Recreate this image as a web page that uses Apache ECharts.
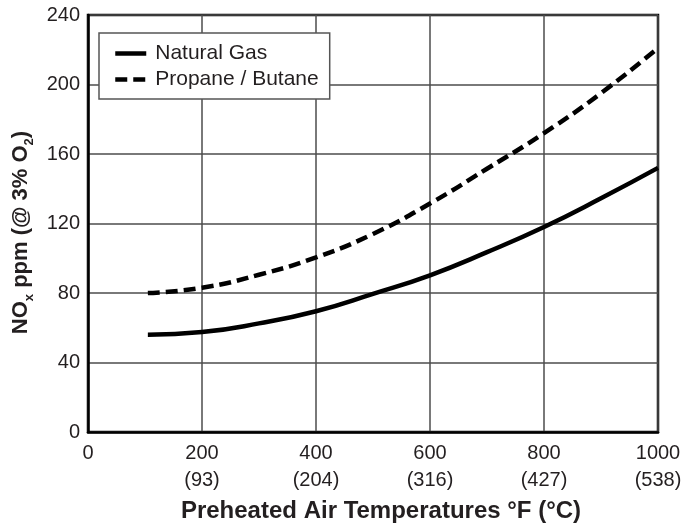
<!DOCTYPE html>
<html>
<head>
<meta charset="utf-8">
<script src="https://cdn.jsdelivr.net/npm/echarts@6/dist/echarts.min.js"></script>
<style>
html,body{margin:0;padding:0;background:#fff;}
#chart{width:681px;height:523px;}
</style>
</head>
<body>
<div id="chart"></div>
<script>
// Data
var xTickValues = [0, 200, 400, 600, 800, 1000];
var xTickCelsius = ['', '93', '204', '316', '427', '538'];
var yTickValues = [0, 40, 80, 120, 160, 200, 240];

var seriesNames = ['Natural Gas', 'Propane / Butane'];
var temperaturesF = [105, 200, 300, 400, 500, 600, 700, 800, 900, 1000];
var naturalGas = [56, 57.5, 62.5, 69.5, 79.5, 90.2, 103.5, 118, 134.5, 152];
var propaneButane = [80, 83, 90.5, 100.5, 114, 131.5, 151.5, 172, 195, 221];

function pairs(xs, ys) {
  return xs.map(function (x, i) { return [x, ys[i]]; });
}

var textColor = '#231f20';
var chart = echarts.init(document.getElementById('chart'), null, {renderer: 'canvas'});
chart.setOption({
  animation: false,
  backgroundColor: '#fff',
  textStyle: {fontFamily: 'Liberation Sans, Arial, sans-serif', color: textColor},
  grid: {left: 88, top: 15, right: 23, bottom: 91, containLabel: false, outerBoundsMode: 'none', show: true, borderColor: '#000', borderWidth: 2.5, backgroundColor: 'transparent'},
  legend: {
    orient: 'vertical',
    left: 99, top: 33,
    padding: [10, 11, 9, 14],
    itemGap: 5,
    itemWidth: 31, itemHeight: 14,
    backgroundColor: '#fff',
    borderColor: '#555',
    borderWidth: 1.5,
    borderRadius: 0,
    data: seriesNames,
    itemStyle: {opacity: 0},
    lineStyle: {width: 4.5},
    textStyle: {fontSize: 21, color: textColor, padding: [0, 0, 0, 4], lineHeight: 21, fontFamily: 'Liberation Sans, Arial, sans-serif'}
  },
  xAxis: {
    type: 'value',
    min: 0, max: 1000, interval: 200,
    name: 'Preheated Air Temperatures °F (°C)',
    nameLocation: 'middle',
    nameGap: 57,
    nameTextStyle: {fontSize: 24, fontWeight: 'bold', color: textColor, padding: [0, 0, 0, 16], fontFamily: 'Liberation Sans, Arial, sans-serif'},
    axisLine: {show: true, onZero: false, lineStyle: {color: '#000', width: 2.5}},
    axisTick: {show: false},
    splitLine: {show: true, lineStyle: {color: '#4d4d4d', width: 1.5}},
    axisLabel: {
      fontSize: 20, color: textColor, margin: 8, lineHeight: 27,
      formatter: function (v) {
        var i = xTickValues.indexOf(v);
        var c = i >= 0 ? xTickCelsius[i] : '';
        return c ? v + '\n(' + c + ')' : String(v);
      }
    }
  },
  yAxis: {
    type: 'value',
    min: 0, max: 240, interval: 40,
    name: '{b|NO}{s|x}{b| ppm (@ 3% O}{s|2}{b|)}',
    nameLocation: 'middle',
    nameRotate: 90,
    nameGap: 52,
    nameTextStyle: {
      padding: [0, 18, 0, 0],
      rich: {
        b: {fontSize: 22, fontWeight: 'bold', color: textColor, lineHeight: 30, fontFamily: 'Liberation Sans, Arial, sans-serif'},
        s: {fontSize: 13, fontWeight: 'bold', color: textColor, lineHeight: 14, verticalAlign: 'bottom', fontFamily: 'Liberation Sans, Arial, sans-serif'}
      }
    },
    axisLine: {show: true, lineStyle: {color: '#000', width: 2.5}},
    axisTick: {show: false},
    splitLine: {show: true, lineStyle: {color: '#4d4d4d', width: 1.5}},
    axisLabel: {fontSize: 20, color: textColor, margin: 8}
  },
  series: [
    {
      name: seriesNames[0],
      type: 'line',
      smooth: true,
      symbol: 'none',
      data: pairs(temperaturesF, naturalGas),
      lineStyle: {color: '#000', width: 4.5, cap: 'butt'},
      itemStyle: {color: '#000'},
      z: 3
    },
    {
      name: seriesNames[1],
      type: 'line',
      smooth: true,
      symbol: 'none',
      data: pairs(temperaturesF, propaneButane),
      lineStyle: {color: '#000', width: 4.5, type: [12, 6], cap: 'butt'},
      itemStyle: {color: '#000'},
      z: 3
    }
  ]
});
</script>
</body>
</html>
